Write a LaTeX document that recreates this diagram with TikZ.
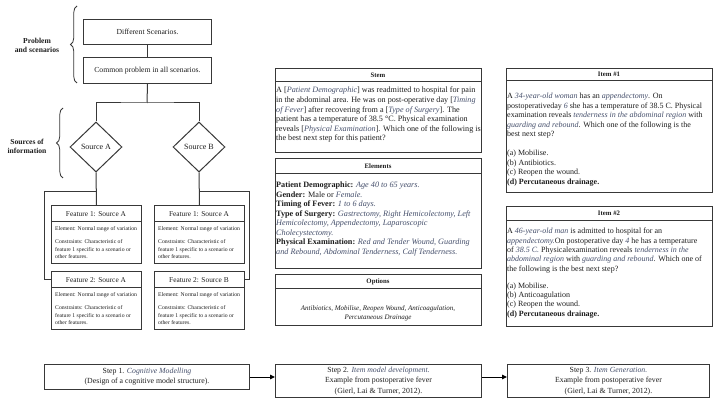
\documentclass[tikz,border=0pt]{standalone}
\usepackage{fontspec}
\setmainfont{Liberation Serif}
\usetikzlibrary{decorations.pathreplacing,arrows.meta,shapes.geometric}
\definecolor{ln}{HTML}{383838}
\definecolor{tx}{HTML}{1E1E1E}
\definecolor{iv}{HTML}{46506C}
\newcommand{\iv}[1]{\textit{\textcolor{iv}{#1}}}
\newcommand{\fs}[2]{\fontsize{#1}{#2}\selectfont}
\begin{document}
\begin{tikzpicture}[x=1pt,y=-1pt,
  box/.style={draw=ln, line width=1pt, rectangle, inner sep=0pt, anchor=north west},
  conn/.style={draw=ln, line width=1pt},
  txt/.style={inner sep=0pt, anchor=north west, text=tx, align=left},
  hdr/.style={inner sep=0pt, text=tx, font=\fs{6.8}{8}\bfseries},
  lbl/.style={inner sep=0pt, text=tx, align=center, font=\fs{7.6}{9}\bfseries},
  dia/.style={draw=ln, line width=1pt, diamond, aspect=1.05, minimum width=52pt, minimum height=50pt, inner sep=0pt, text=tx, font=\fs{8}{9}},
  brc/.style={draw=ln, line width=0.8pt, decorate, decoration={brace, amplitude=6.5pt}},
  arr/.style={draw=black, line width=1pt, -{Triangle[length=5pt,width=4.5pt]}}
]
\useasboundingbox (0,0) rectangle (720,403);
\fill[white] (0,0) rectangle (720,403);

% ---------- left column ----------
\node[box, minimum width=128pt, minimum height=25pt, font=\fs{7.7}{9}, text=tx] (diff) at (83,19) {Different Scenarios.};
\node[box, minimum width=128pt, minimum height=26pt, font=\fs{7.7}{9}, text=tx] (common) at (83,57) {Common problem in all scenarios.};
\draw[conn] (diff.south) -- (common.south |- common.north);

\draw[brc] (77,83) -- (77,6);
\node[lbl] (lab1) at (37,45.5) {Problem\\and scenarios};

\node[dia] (srcA) at (96,147) {Source A};
\node[dia] (srcB) at (199,147) {Source B};

\coordinate (split) at (147,103);
\draw[conn] (common.south) -- (split);
\draw[conn] (srcA.north) |- (split) -| (srcB.north);

\draw[brc] (63,178) -- (63,108);
\node[lbl] (lab2) at (27,146.5) {Sources of\\information};

% feature boxes
\foreach \nm/\x/\y/\t in {f1a/51/205/{Feature 1: Source A}, f1b/154/205/{Feature 1: Source A}, f2a/51/271/{Feature 2: Source A}, f2b/154/271/{Feature 2: Source B}}{
  \node[box, minimum width=90pt, minimum height=58pt] (\nm) at (\x,\y) {};
  \draw[conn] (\x,\y+17) -- (\x+90,\y+17);
  \node[inner sep=0pt, text=tx, font=\fs{7.4}{8}] at (\x+45,\y+9) {\t};
  \node[txt, font=\fs{5.7}{7.6}] at (\x+4,\y+21) {Element: Normal range of variation};
  \node[txt, font=\fs{5.7}{7.6}] at (\x+4,\y+34.5) {Constraints: Characteristic of\\feature 1 specific to a scenario or\\other features.};
}

\coordinate (ja) at (96,192);
\coordinate (jb) at (199,192);
\draw[conn] (srcA.south) -- (f1a.north);
\draw[conn] (srcB.south) -- (f1b.north);
\draw[conn] (ja) -- (44,192) |- (f2a.west |- 0,279.5);
\draw[conn] (jb) -- (249,192) |- (f2b.east |- 0,279.5);

% ---------- middle column ----------
\node[box, minimum width=206pt, minimum height=84pt] (stem) at (275,68) {};
\draw[conn] (275,82) -- (481,82);
\node[hdr] at (378,75) {Stem};
\node[txt, font=\fs{8.15}{9.6}] (stemtxt) at (276,87) {A [\iv{Patient Demographic}] was readmitted to hospital for pain\\
in the abdominal area. He was on post-operative day [\iv{Timing}\\
\iv{of Fever}] after recovering from a [\iv{Type of Surgery}]. The\\
patient has a temperature of 38.5 °C. Physical examination\\
reveals [\iv{Physical Examination}]. Which one of the following is\\
the best next step for this patient?};

\node[box, minimum width=206pt, minimum height=110pt] (elem) at (275,158) {};
\draw[conn] (275,174) -- (481,174);
\node[hdr] at (378,166) {Elements};
\node[txt, font=\fs{8.2}{9.45}] (elemtxt) at (276,182) {\textbf{Patient Demographic:} \iv{Age 40 to 65 years.}\\
\textbf{Gender:} Male or \iv{Female.}\\
\textbf{Timing of Fever:} \iv{1 to 6 days.}\\
\textbf{Type of Surgery:} \iv{Gastrectomy, Right Hemicolectomy, Left}\\
\iv{Hemicolectomy, Appendectomy, Laparoscopic}\\
\iv{Cholecystectomy.}\\
\textbf{Physical Examination:} \iv{Red and Tender Wound, Guarding}\\
\iv{and Rebound, Abdominal Tenderness, Calf Tenderness.}};

\node[box, minimum width=206pt, minimum height=51pt] (opts) at (275,274) {};
\draw[conn] (275,289) -- (481,289);
\node[hdr] at (378,281.5) {Options};
\node[inner sep=0pt, align=center, font=\fs{7}{9.3}\itshape, text=tx] (optstxt) at (378,313.5) {Antibiotics, Mobilise, Reopen Wound, Anticoagulation,\\Percutaneous Drainage};

% ---------- right column ----------
\node[box, minimum width=206pt, minimum height=124pt] (item1) at (506,68) {};
\draw[conn] (506,81) -- (712,81);
\node[hdr] at (609,74.5) {Item \#1};
\node[txt, font=\fs{8.0}{9.5}] (item1txt) at (507,93) {A \iv{34-year-old woman} has an \iv{appendectomy}. On\\
postoperativeday \iv{6} she has a temperature of 38.5 C. Physical\\
examination reveals \iv{tenderness in the abdominal region} with\\
\iv{guarding and rebound}. Which one of the following is the\\
best next step?\\[9.5pt]
(a) Mobilise.\\
(b) Antibiotics.\\
(c) Reopen the wound.\\
\textbf{(d) Percutaneous drainage.}};

\node[box, minimum width=206pt, minimum height=120pt] (item2) at (506,206) {};
\draw[conn] (506,221) -- (712,221);
\node[hdr] at (609,213.5) {Item \#2};
\node[txt, font=\fs{8.0}{9.3}] (item2txt) at (507,228) {A \iv{46-year-old man} is admitted to hospital for an\\
\iv{appendectomy.}On postoperative day \iv{4} he has a temperature\\
of \iv{38.5 C.} Physicalexamination reveals \iv{tenderness in the}\\
\iv{abdominal region} with \iv{guarding and rebound}. Which one of\\
the following is the best next step?\\[8pt]
(a) Mobilise.\\
(b) Anticoagulation\\
(c) Reopen the wound.\\
\textbf{(d) Percutaneous drainage.}};

% ---------- bottom steps ----------
\node[box, minimum width=205pt, minimum height=25pt] (s1) at (44,364) {};
\node[inner sep=0pt, align=center, text=tx, font=\fs{7.8}{10}] at (s1.center) {Step 1. \iv{Cognitive Modelling}\\(Design of a cognitive model structure).};
\node[box, minimum width=206pt, minimum height=33pt] (s2) at (275,364) {};
\node[inner sep=0pt, align=center, text=tx, font=\fs{7.8}{10.5}] at (s2.center) {Step 2. \iv{Item model development.}\\Example from postoperative fever\\(Gierl, Lai \& Turner, 2012).};
\node[box, minimum width=202pt, minimum height=33pt] (s3) at (507,364) {};
\node[inner sep=0pt, align=center, text=tx, font=\fs{7.8}{10.5}] at (s3.center) {Step 3. \iv{Item Generation.}\\Example from postoperative fever\\(Gierl, Lai \& Turner, 2012).};

\draw[arr] (s1.east |- 0,377) -- (s2.west |- 0,377);
\draw[arr] (s2.east |- 0,377) -- (s3.west |- 0,377);
\end{tikzpicture}
\end{document}
